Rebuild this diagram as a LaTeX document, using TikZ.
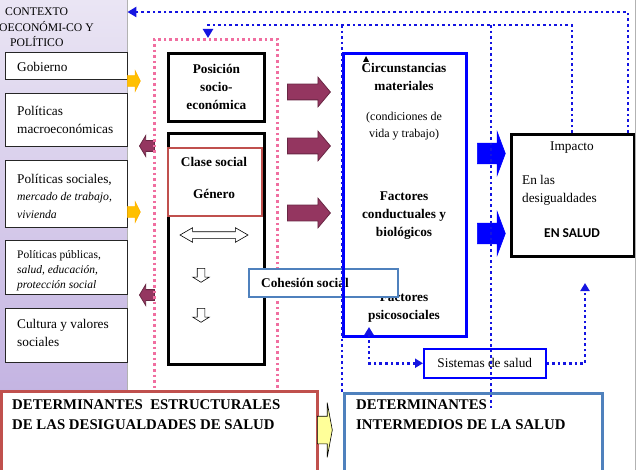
\documentclass[tikz,border=0pt]{standalone}
\usepackage{fontspec}
\setmainfont{Liberation Serif}
\newfontfamily\calibri{Carlito}
\usetikzlibrary{shapes,arrows.meta}

\definecolor{ctxtop}{RGB}{234,229,244}
\definecolor{ctxbot}{RGB}{196,180,226}
\definecolor{brick}{RGB}{192,80,77}
\definecolor{steel}{RGB}{79,129,189}
\definecolor{pinkdot}{RGB}{240,110,160}
\definecolor{dotblue}{RGB}{20,20,225}
\definecolor{maroon}{RGB}{148,54,96}
\definecolor{gold}{RGB}{255,192,0}
\definecolor{paleyellow}{RGB}{255,255,153}

\tikzset{
  base/.style={font=\fontsize{13.3}{18}\selectfont},
  boldtxt/.style={align=center, font=\fontsize{13.3}{18}\selectfont\bfseries},
  ctxpanel/.style={anchor=north west, minimum width=127pt, minimum height=392pt,
    inner sep=0pt, top color=ctxtop, bottom color=ctxbot, draw=none},
  ctxbox/.style={anchor=north west, draw=black!85, fill=white, line width=0.9pt,
    minimum width=122pt, inner sep=0pt},
  ctxtxt/.style={anchor=west, align=left, inner sep=0pt},
  thickbox/.style={anchor=north west, draw=black, line width=2.8pt, inner sep=0pt},
  pdot/.style={draw=pinkdot, line width=2.6pt, dash pattern=on 2.6pt off 3pt},
  bdot/.style={draw=dotblue, line width=2.6pt, dash pattern=on 2.6pt off 3pt},
  dtip/.style={-{Triangle[length=9pt,width=10pt]}},
  arr/.style={single arrow, inner xsep=0pt, anchor=tail},
  mright/.style={arr, fill=maroon, draw=maroon!70!black, line width=0.8pt,
    inner ysep=7.5pt, minimum height=43pt, single arrow head extend=7pt,
    single arrow tip angle=100},
  mleft/.style={arr, anchor=tip, fill=maroon, draw=maroon!70!black, line width=0.8pt,
    inner ysep=5pt, minimum height=15pt, single arrow head extend=5pt,
    single arrow tip angle=118, shape border rotate=180},
  yright/.style={arr, fill=gold, draw=gold!80!orange, line width=0.6pt,
    inner ysep=5pt, minimum height=13pt, single arrow head extend=5pt,
    single arrow tip angle=127},
  bright/.style={arr, fill=blue, draw=blue, line width=0.6pt,
    inner ysep=10pt, minimum height=28pt, single arrow head extend=11.5pt,
    single arrow tip angle=139},
  wdown/.style={arr, fill=white, draw=black, line width=0.6pt,
    inner sep=3.5pt, minimum height=14pt, single arrow head extend=4.5pt,
    single arrow tip angle=116, shape border rotate=270},
}

\begin{document}
\begin{tikzpicture}[x=1pt, y=-1pt, base]
\useasboundingbox (0,0) rectangle (636,470);
\clip (0,0) rectangle (636,470);

% socio-economic and political context
\node[ctxpanel] (ctx) at (0,0) {};
\draw[gray!60, line width=0.8pt] (ctx.north east) -- (ctx.south east);
\node[anchor=north west, align=left, inner sep=0pt,
  font=\fontsize{11.7}{15.5}\selectfont] (ctxt) at (-1,8)
  {\hspace*{6pt}CONTEXTO\\OECONÓMI-CO Y\\\hspace*{11pt}POLÍTICO};

\node[ctxbox, minimum height=27pt] (gob) at (5,52) {};
\node[ctxbox, minimum height=53pt] (macro) at (5,93) {};
\node[ctxbox, minimum height=67pt] (psoc) at (5,160) {};
\node[ctxbox, minimum height=54pt] (ppub) at (5,240) {};
\node[ctxbox, minimum height=54pt] (cult) at (5,308) {};
\node[ctxtxt] at ([xshift=12pt,yshift=-1pt]gob.west) {Gobierno};
\node[ctxtxt] at ([xshift=12pt]macro.west) {Políticas\\macroeconómicas};
\node[ctxtxt] at ([xshift=12pt,yshift=-2pt]psoc.west) {Políticas sociales,\\[-1pt]
  \fontsize{11.7}{17}\selectfont\itshape mercado de trabajo,\\
  \fontsize{11.7}{17}\selectfont\itshape vivienda};
\node[ctxtxt, font=\fontsize{11.5}{15}\selectfont] at ([xshift=12pt,yshift=-3pt]ppub.west)
  {Políticas públicas,\\\itshape salud, educación,\\\itshape protección social};
\node[ctxtxt] at ([xshift=12pt,yshift=3pt]cult.west) {Cultura y valores\\sociales};

\node[yright] (y1) at (127,81) {};
\node[yright] (y2) at (127,212) {};
\node[mleft] (l1) at (139,146) {};
\node[mleft] (l2) at (139,295) {};

% structural determinants
\node[pdot, anchor=north west, minimum width=123pt, minimum height=354pt] (estr) at (153,38) {};
\node[thickbox, boldtxt, minimum width=96pt, minimum height=68pt] (pos) at (167,52)
  {Posición\\socio-\\económica};
\node[thickbox, minimum width=96pt, minimum height=231pt] (ejes) at (167,132) {};
\node[anchor=north west, draw=brick, line width=1.8pt, fill=white, inner sep=0pt,
  minimum width=94pt, minimum height=68pt] (clase) at (167,147) {};
\node[boldtxt] (clt) at (214,177.5) {Clase social\\[14pt]Género};
\node[double arrow, fill=white, draw=black, line width=0.6pt, inner xsep=0pt,
  inner ysep=3pt, minimum height=68pt, double arrow head extend=4pt,
  double arrow tip angle=60] (dbl) at (214,235) {};
\node[wdown] (dn1) at (201,268) {};
\node[wdown] (dn2) at (201,308) {};

\node[mright] (m1) at (287,92) {};
\node[mright] (m2) at (287,146) {};
\node[mright] (m3) at (287,213) {};

% intermediate determinants
\node[boldtxt] (circ) at (404,77) {Circunstancias\\materiales};
\node[align=center, font=\fontsize{12}{17}\selectfont] (cond) at (404,126.5)
  {(condiciones de\\vida y trabajo)};
\node[boldtxt] (fcb) at (404,215.5) {Factores\\conductuales y\\biológicos};
\node[boldtxt] (fps) at (404,308) {Factores\\psicosociales};
\node[anchor=north west, draw=steel, line width=1.8pt, fill=white, inner sep=0pt,
  minimum width=149pt, minimum height=28pt] (cohes) at (248,268) {};
\node[anchor=west, inner sep=0pt, font=\fontsize{13.3}{18}\selectfont\bfseries]
  at ([xshift=13pt]cohes.west) {Cohesión social};
\node[thickbox, draw=blue, minimum width=123pt, minimum height=283pt] (inter) at (342,52) {};
\fill (363,62) -- (366,56) -- (369,62) -- cycle;

\node[bright] (b1) at (477,153.5) {};
\node[bright] (b2) at (477,233.5) {};

% impact
\node[thickbox, minimum width=123pt, minimum height=122pt] (imp) at (510,133) {};
\node (impt) at (572,148) {Impacto};
\node[anchor=west, align=left] (desig) at (518.6,190.5) {En las\\desigualdades};
\node[font=\calibri\bfseries\fontsize{13.5}{16}\selectfont] (ensal) at (572,233) {EN SALUD};
\draw[gray!60, line width=0.8pt] (imp.north east |- 0,0) -- (imp.south east |- 0,470);

\node[anchor=north west, draw=blue, line width=1.5pt, fill=white, inner sep=0pt,
  minimum width=122pt, minimum height=29pt] (sis) at (423,348) {Sistemas de salud};

% bottom captions
\node[anchor=north west, draw=brick, line width=2.5pt, fill=white, inner sep=0pt,
  minimum width=316pt, minimum height=95pt] (det1) at (0,390) {};
\node[anchor=west, align=left, inner sep=0pt, font=\fontsize{14.8}{20}\selectfont\bfseries]
  (det1t) at (12,415) {DETERMINANTES\ \ ESTRUCTURALES\\DE LAS DESIGUALDADES DE SALUD};
\node[anchor=north west, draw=steel, line width=2.5pt, fill=white, inner sep=0pt,
  minimum width=258pt, minimum height=95pt] (det2) at (343,392) {};
\node[anchor=west, align=left, inner sep=0pt, font=\fontsize{14.8}{20}\selectfont\bfseries]
  (det2t) at (356,415) {DETERMINANTES\\INTERMEDIOS DE LA SALUD};
\node[arr, fill=paleyellow, draw=black, line width=0.6pt, inner ysep=13.5pt,
  minimum height=15pt, single arrow head extend=13.5pt, single arrow tip angle=159]
  (ya) at (317,430) {};

% feedback loops
\coordinate (ret) at (208,25);
\coordinate (mid) at (491,410);
\coordinate (psy) at (369,327);
\coordinate (up) at (585,283);
\draw[bdot, dtip] ([xshift=-8pt]imp.north east) |- (ctx.east |- 0,12);
\draw[bdot, dtip] ([xshift=62pt]imp.north west) |- (ret) -- (ret |- estr.north);
\draw[bdot] (inter.north west |- ret) -- (inter.south west |- det2.north);
\draw[bdot] (mid |- ret) -- (mid);
\draw[bdot, {Triangle[length=8pt,width=9pt]}-{Triangle[length=8pt,width=9pt]}]
  (sis.west) -| (psy);
\draw[bdot, -{Triangle[length=8pt,width=9pt]}] (sis.east) -| (up);
\end{tikzpicture}
\end{document}
